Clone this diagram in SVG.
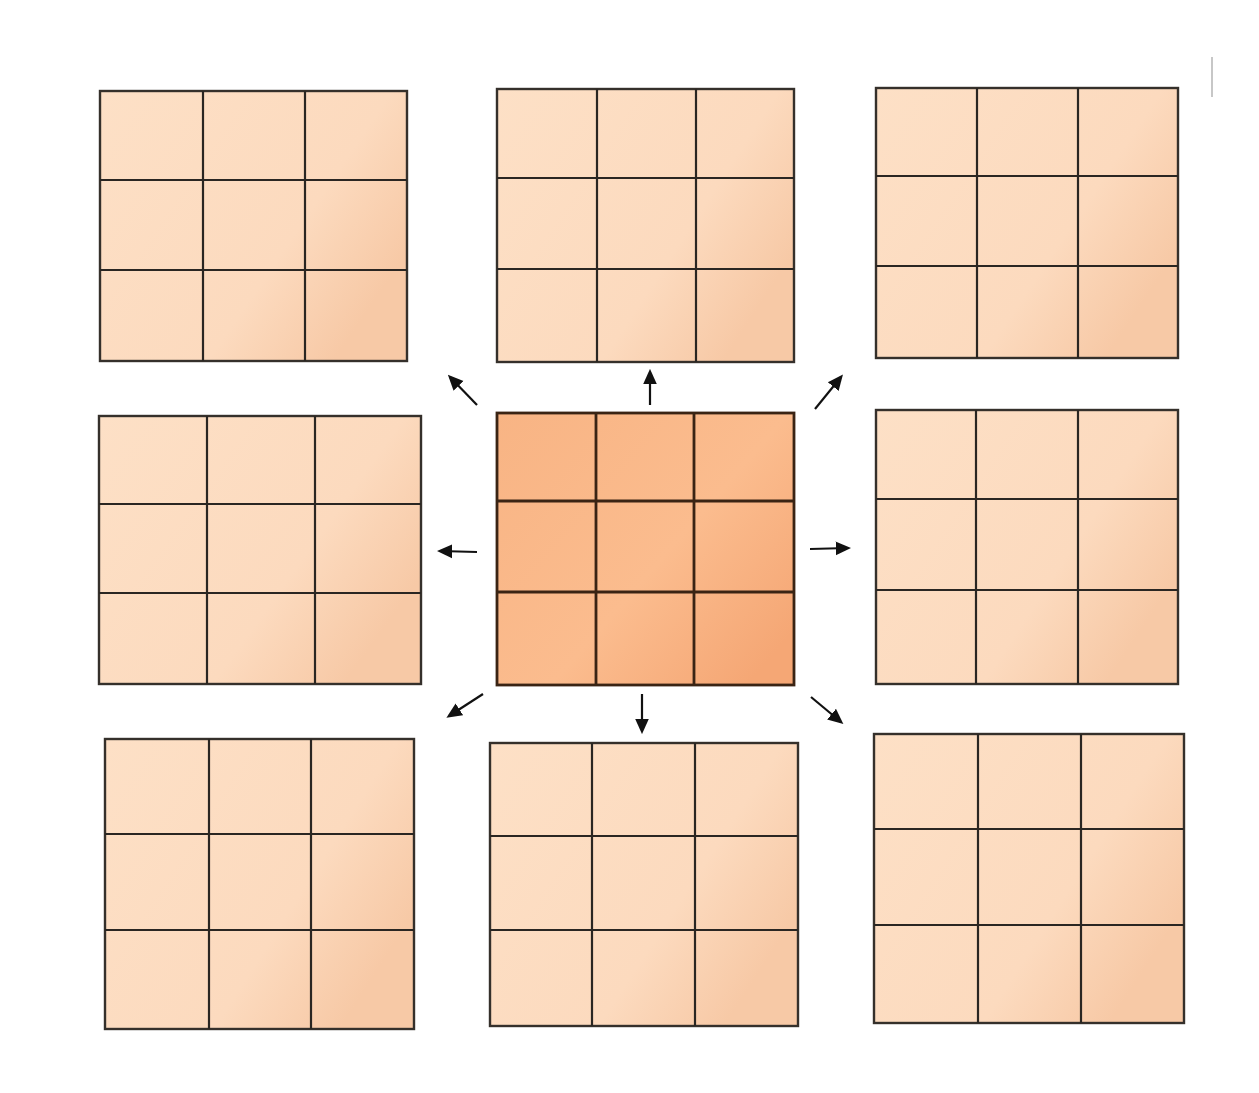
<svg xmlns="http://www.w3.org/2000/svg" width="1259" height="1093" viewBox="0 0 1259 1093">
<defs>
<linearGradient id="gl" x1="0" y1="0" x2="1" y2="0.6">
<stop offset="0" stop-color="#fde0c6"/>
<stop offset="0.7" stop-color="#fcdabe"/>
<stop offset="1" stop-color="#f7c9a6"/>
</linearGradient>
<linearGradient id="gc" x1="0" y1="0" x2="1" y2="0.8">
<stop offset="0" stop-color="#f8b484"/>
<stop offset="0.6" stop-color="#fbbc8e"/>
<stop offset="1" stop-color="#f5a775"/>
</linearGradient>
<marker id="ah" viewBox="0 0 10 10" refX="8" refY="5" markerWidth="7" markerHeight="7" orient="auto" markerUnits="strokeWidth">
<path d="M0,0.5 L10,5 L0,9.5 z" fill="#111"/>
</marker>
<style>
.g rect{fill:url(#gl);stroke:#35302b;stroke-width:2.4}
.g line{stroke:#2a2622;stroke-width:2.2}
.c rect{fill:url(#gc);stroke:#3a2414;stroke-width:2.8}
.c line{stroke:#3a2414;stroke-width:2.8}
.arr line{stroke:#111;stroke-width:2.2;marker-end:url(#ah)}
</style>
</defs>
<rect width="1259" height="1093" fill="#ffffff"/>
<line x1="1212" y1="57" x2="1212" y2="97" stroke="#b5b5b5" stroke-width="1.5"/>

<g id="grid-top-left" class="g">
<rect x="100" y="91" width="307" height="270"/>
<line x1="203" y1="91" x2="203" y2="361"/><line x1="305" y1="91" x2="305" y2="361"/>
<line x1="100" y1="180" x2="407" y2="180"/><line x1="100" y1="270" x2="407" y2="270"/>
</g>
<g id="grid-top-center" class="g">
<rect x="497" y="89" width="297" height="273"/>
<line x1="597" y1="89" x2="597" y2="362"/><line x1="696" y1="89" x2="696" y2="362"/>
<line x1="497" y1="178" x2="794" y2="178"/><line x1="497" y1="269" x2="794" y2="269"/>
</g>
<g id="grid-top-right" class="g">
<rect x="876" y="88" width="302" height="270"/>
<line x1="977" y1="88" x2="977" y2="358"/><line x1="1078" y1="88" x2="1078" y2="358"/>
<line x1="876" y1="176" x2="1178" y2="176"/><line x1="876" y1="266" x2="1178" y2="266"/>
</g>
<g id="grid-mid-left" class="g">
<rect x="99" y="416" width="322" height="268"/>
<line x1="207" y1="416" x2="207" y2="684"/><line x1="315" y1="416" x2="315" y2="684"/>
<line x1="99" y1="504" x2="421" y2="504"/><line x1="99" y1="593" x2="421" y2="593"/>
</g>
<g id="grid-center" class="c">
<rect x="497" y="413" width="297" height="272"/>
<line x1="596" y1="413" x2="596" y2="685"/><line x1="694" y1="413" x2="694" y2="685"/>
<line x1="497" y1="501" x2="794" y2="501"/><line x1="497" y1="592" x2="794" y2="592"/>
</g>
<g id="grid-mid-right" class="g">
<rect x="876" y="410" width="302" height="274"/>
<line x1="976" y1="410" x2="976" y2="684"/><line x1="1078" y1="410" x2="1078" y2="684"/>
<line x1="876" y1="499" x2="1178" y2="499"/><line x1="876" y1="590" x2="1178" y2="590"/>
</g>
<g id="grid-bottom-left" class="g">
<rect x="105" y="739" width="309" height="290"/>
<line x1="209" y1="739" x2="209" y2="1029"/><line x1="311" y1="739" x2="311" y2="1029"/>
<line x1="105" y1="834" x2="414" y2="834"/><line x1="105" y1="930" x2="414" y2="930"/>
</g>
<g id="grid-bottom-center" class="g">
<rect x="490" y="743" width="308" height="283"/>
<line x1="592" y1="743" x2="592" y2="1026"/><line x1="695" y1="743" x2="695" y2="1026"/>
<line x1="490" y1="836" x2="798" y2="836"/><line x1="490" y1="930" x2="798" y2="930"/>
</g>
<g id="grid-bottom-right" class="g">
<rect x="874" y="734" width="310" height="289"/>
<line x1="978" y1="734" x2="978" y2="1023"/><line x1="1081" y1="734" x2="1081" y2="1023"/>
<line x1="874" y1="829" x2="1184" y2="829"/><line x1="874" y1="925" x2="1184" y2="925"/>
</g>

<g id="connectors" class="arr">
<line x1="477" y1="405" x2="450" y2="377"/>
<line x1="650" y1="405" x2="650" y2="372"/>
<line x1="815" y1="409" x2="841" y2="377"/>
<line x1="477" y1="552" x2="440" y2="551"/>
<line x1="810" y1="549" x2="848" y2="548"/>
<line x1="483" y1="694" x2="449" y2="716"/>
<line x1="642" y1="694" x2="642" y2="731"/>
<line x1="811" y1="697" x2="841" y2="722"/>
</g>
</svg>
